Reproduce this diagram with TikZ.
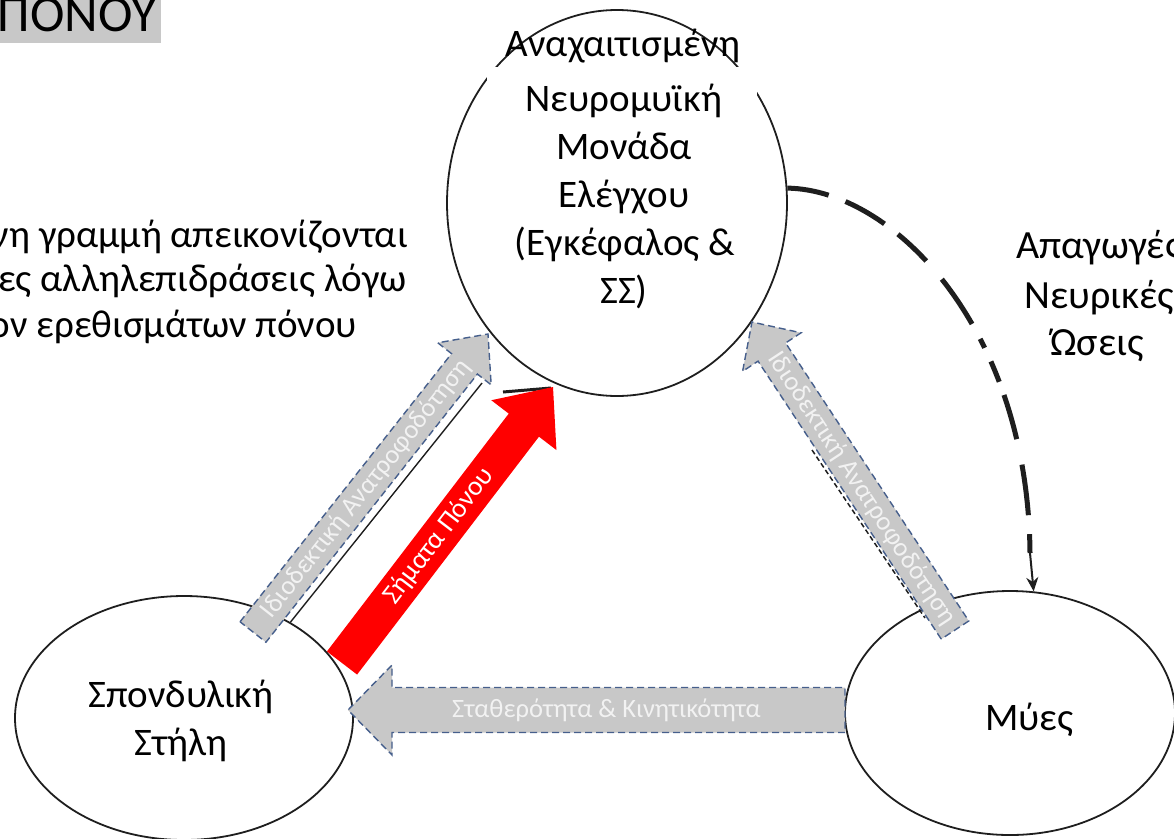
\documentclass[tikz,border=0pt]{standalone}
\usepackage{fontspec}
\setmainfont{Carlito}
\usetikzlibrary{shapes.geometric,calc,arrows.meta}
\definecolor{garrow}{RGB}{200,200,200}
\definecolor{gedge}{RGB}{70,95,140}
\definecolor{gtext}{RGB}{242,242,242}
\definecolor{painred}{RGB}{255,0,0}
\definecolor{inkline}{RGB}{30,30,30}
% #1 style, #2 tail coordinate, #3 tip coordinate, #4 half shaft, #5 half head, #6 head length
\newcommand\blockarrow[6][]{%
  \coordinate (#2n) at ($(#3)!#6!(#2)$);
  \path[#1] ($(#2)!#4!90:(#3)$) -- ($(#2n)!#4!90:(#3)$) -- ($(#2n)!#5!90:(#3)$) -- (#3)
    -- ($(#2n)!#5!-90:(#3)$) -- ($(#2n)!#4!-90:(#3)$) -- ($(#2)!#4!-90:(#3)$) -- cycle;}
\begin{document}
\begin{tikzpicture}[x=1pt,y=-1pt,
  lbl/.style={font=\fontsize{39pt}{46pt}\selectfont, inner sep=0pt, text=black},
  ring/.style={draw=inkline, line width=1.8pt, ellipse, inner sep=0pt},
  grayarrow/.style={fill=garrow, draw=gedge, line width=1.4pt, dash pattern=on 7pt off 4pt},
  redarrow/.style={fill=painred},
  arrtext/.style={font=\fontsize{26.5pt}{30pt}\selectfont, text=gtext, inner sep=0pt},
  redtext/.style={font=\fontsize{27.5pt}{30pt}\selectfont, text=white, inner sep=0pt},
  ghost/.style={draw=inkline, line width=1.4pt},
]
\useasboundingbox (0,0) rectangle (1174,838);

% title fragment
\fill[garrow] (0,0) rectangle (161,43);
\node[anchor=base east, font=\fontsize{52pt}{56pt}\selectfont, inner sep=0pt] (title) at (157,31) {ΠΟΝΟΥ};

% left explanatory text (cut at the left edge)
\node[lbl, anchor=base east] (l1) at (408,247) {νη γραμμή απεικονίζονται};
\node[lbl, anchor=base east] (l2) at (407,291) {ες αλληλεπιδράσεις λόγω};
\node[lbl, anchor=base east] (l3) at (357,337) {ον ερεθισμάτων πόνου};

% ellipses
\node[ring, minimum width=340pt, minimum height=386pt] (brain) at (617,203) {};
\node[ring, minimum width=338pt, minimum height=244pt] (spine) at (184,718) {};
\node[ring, minimum width=330pt, minimum height=244pt] (muscle) at (1010,713) {};

% brain text
\fill[white] (487,67) rectangle (757,305);
\node[lbl, anchor=base] (b1) at (624,111) {Νευρομυϊκή};
\node[lbl, anchor=base] (b2) at (624,159) {Μονάδα};
\node[lbl, anchor=base] (b3) at (624,207) {Ελέγχου};
\node[lbl, anchor=base] (b4) at (625,255) {(Εγκέφαλος \&};
\node[lbl, anchor=base] (b5) at (624,303) {ΣΣ)};
\node[lbl, anchor=base] (inhib) at (623,56) {Αναχαιτισμένη};

\node[lbl, anchor=base] (s1) at (181,707) {Σπονδυλική};
\node[lbl, anchor=base] (s2) at (181,755) {Στήλη};
\node[lbl, anchor=base] (m1) at (1029,730) {Μύες};

% right text
\node[lbl, font=\fontsize{40pt}{46pt}\selectfont, anchor=base] (r1) at (1099,258) {Απαγωγές};
\node[lbl, font=\fontsize{40pt}{46pt}\selectfont, anchor=base] (r2) at (1099,308) {Νευρικές};
\node[lbl, font=\fontsize{40pt}{46pt}\selectfont, anchor=base] (r3) at (1097,355) {Ώσεις};

% remnants of underlying black arrows
\coordinate (kB) at (482,383);
\draw[ghost] (spine.42) -- (kB);
\coordinate (kh1) at (503,392);
\coordinate (kh2) at (551,388);
\draw[inkline, line width=3pt] (kh1) -- (kh2);
\coordinate (kc1) at (812,450);
\coordinate (kc2) at (925,618);
\draw[inkline, line width=1.5pt, dash pattern=on 5pt off 3pt] (kc1) -- (kc2);

% block arrows
\coordinate (aT) at (253,632); \coordinate (aP) at (488,334);
\blockarrow[grayarrow]{aT}{aP}{16.5pt}{34pt}{38pt}
\path (aT) -- (aP) node[arrtext, sloped, pos=0.48] (aL) {Ιδιοδεκτική Ανατροφοδότηση};

\coordinate (rT) at (342,663); \coordinate (rP) at (553,387);
\blockarrow[redarrow]{rT}{rP}{19pt}{41pt}{48pt}
\path (rT) -- (rP) node[redtext, sloped, pos=0.46] (rL) {Σήματα Πόνου};

\coordinate (cT) at (955,630); \coordinate (cP) at (752,322);
\blockarrow[grayarrow]{cT}{cP}{16.5pt}{35pt}{36pt}
\path (cT) -- (cP) node[arrtext, sloped, pos=0.46] (cL) {Ιδιοδεκτική Ανατροφοδότηση};

\coordinate (dT) at (845,710); \coordinate (dP) at (348,710);
\blockarrow[grayarrow]{dT}{dP}{22.5pt}{45pt}{44pt}
\path (dT) -- (dP) node[arrtext, pos=0.48] (dL) {Σταθερότητα \& Κινητικότητα};

% efferent dashed connector
\coordinate (dm) at (1030,553);
\draw[inkline, line width=5pt, dash pattern=on 42pt off 18pt on 45pt off 17pt on 39pt off 24pt on 54pt off 17pt on 10pt off 15pt on 22pt off 14pt on 46pt off 26pt on 51pt off 19pt]
  (brain.5) .. controls (895,190) and (1028,330) .. (dm);
\draw[inkline, line width=2pt, -{Stealth[length=14pt,width=12pt]}] (dm) -- (muscle.79);
\end{tikzpicture}
\end{document}
